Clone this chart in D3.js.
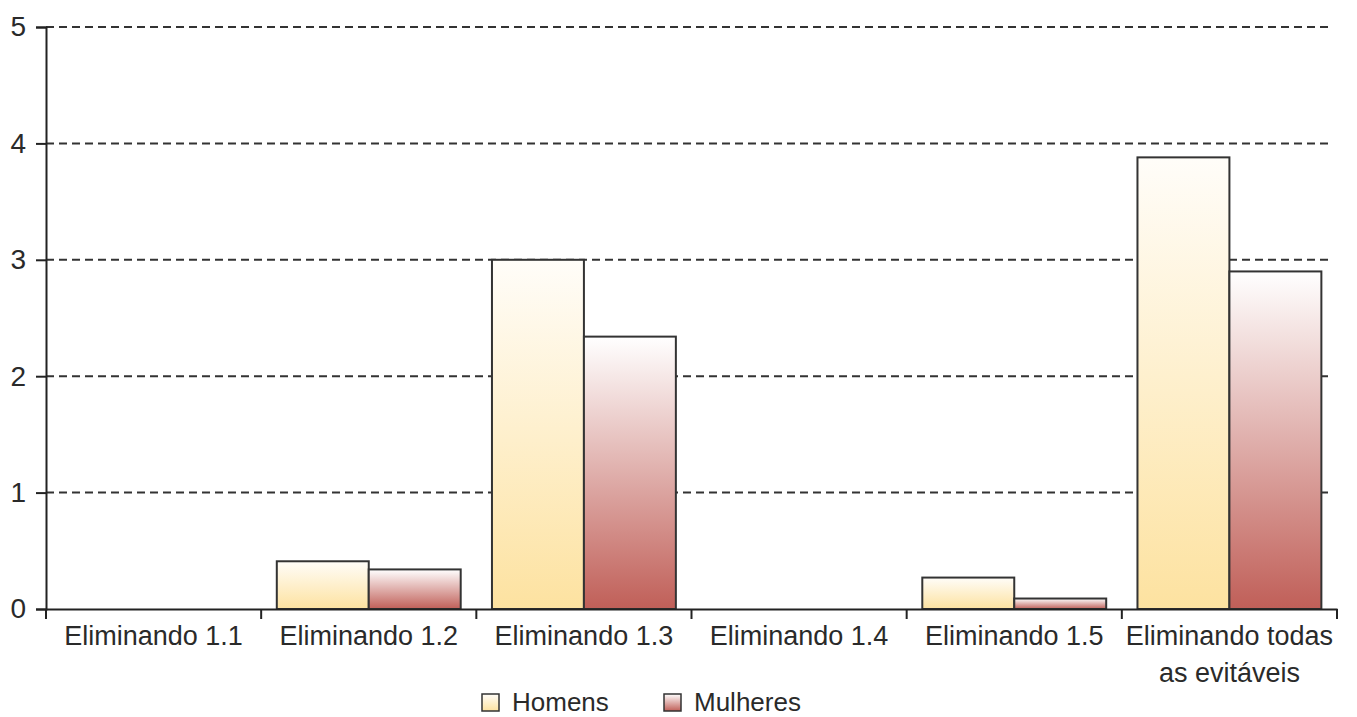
<!DOCTYPE html>
<html>
<head>
<meta charset="utf-8">
<script src="https://cdn.jsdelivr.net/npm/d3@7"></script>
<style>
  html, body { margin: 0; padding: 0; background: #fff; }
  svg { display: block; font-family: "Liberation Sans", Arial, sans-serif; }
</style>
</head>
<body>
<svg id="chart" width="1357" height="717"></svg>
<script>
// Categories (multi-line labels split on "\n")
const categories = [
  "Eliminando 1.1",
  "Eliminando 1.2",
  "Eliminando 1.3",
  "Eliminando 1.4",
  "Eliminando 1.5",
  "Eliminando todas\nas evitáveis"
];
const seriesNames = ["Homens", "Mulheres"];
const homens   = [0, 0.41, 3.0, 0, 0.27, 3.88];
const mulheres = [0, 0.34, 2.34, 0, 0.09, 2.9];
const yTicks = [0, 1, 2, 3, 4, 5];

const svg = d3.select("#chart");
const margin = { left: 46, top: 27 };
const plotRight = 1337;
const plotBottom = 609;

const x = d3.scaleBand().domain(categories).range([margin.left, plotRight]).padding(0);
const xs = d3.scaleBand().domain(seriesNames).range([0, x.bandwidth()]).paddingInner(0).paddingOuter(0.17);
const y = d3.scaleLinear().domain([0, 5]).range([plotBottom, margin.top]);

// Vertical gradients for the bar fills
const defs = svg.append("defs");
const gradSpecs = [
  { id: "g-homens", top: "#fffdf9", bottom: "#fde2a0" },
  { id: "g-mulheres", top: "#ffffff", bottom: "#c05f58" }
];
gradSpecs.forEach(g => {
  const lg = defs.append("linearGradient").attr("id", g.id)
    .attr("x1", 0).attr("y1", 0).attr("x2", 0).attr("y2", 1);
  lg.append("stop").attr("offset", "0%").attr("stop-color", g.top);
  lg.append("stop").attr("offset", "100%").attr("stop-color", g.bottom);
});
const fillFor = { "Homens": "url(#g-homens)", "Mulheres": "url(#g-mulheres)" };

// Dashed horizontal gridlines
svg.append("g").selectAll("line")
  .data(yTicks.filter(t => t > 0))
  .join("line")
  .attr("x1", margin.left).attr("x2", plotRight - 4)
  .attr("y1", d => y(d)).attr("y2", d => y(d))
  .attr("stroke", "#333").attr("stroke-width", 2)
  .attr("stroke-dasharray", "8,5");

// Bars
const rows = categories.map((c, i) => ({ cat: c, values: [
  { name: "Homens", value: homens[i] },
  { name: "Mulheres", value: mulheres[i] }
]}));

const groups = svg.append("g").selectAll("g")
  .data(rows).join("g")
  .attr("transform", d => `translate(${x(d.cat)},0)`);

groups.selectAll("rect")
  .data(d => d.values.filter(v => v.value > 0))
  .join("rect")
  .attr("x", d => xs(d.name))
  .attr("width", xs.bandwidth())
  .attr("y", d => y(d.value))
  .attr("height", d => y(0) - y(d.value))
  .attr("fill", d => fillFor[d.name])
  .attr("stroke", "#333")
  .attr("stroke-width", 2);

// Y axis
const yAxis = d3.axisLeft(y).tickValues(yTicks).tickSize(10).tickPadding(10).tickFormat(d3.format("d"));
const gy = svg.append("g").attr("transform", `translate(${margin.left},0)`).call(yAxis);
gy.select(".domain").attr("stroke", "#222").attr("stroke-width", 2);
gy.selectAll(".tick line").attr("stroke", "#222").attr("stroke-width", 2);
gy.selectAll(".tick text").attr("font-size", 28).attr("fill", "#2a2a2a")
  .attr("font-family", "Liberation Sans, Arial, sans-serif");

// X axis
const xAxis = d3.axisBottom(x).tickSize(0).tickFormat("");
const gx = svg.append("g").attr("transform", `translate(0,${plotBottom})`).call(xAxis);
gx.select(".domain").attr("stroke", "#222").attr("stroke-width", 2);

// Boundary ticks between categories
const boundaries = categories.map(c => x(c)).concat([x(categories[categories.length - 1]) + x.bandwidth()]);
svg.append("g").selectAll("line")
  .data(boundaries).join("line")
  .attr("x1", d => d).attr("x2", d => d)
  .attr("y1", plotBottom).attr("y2", plotBottom + 10)
  .attr("stroke", "#222").attr("stroke-width", 2);

// Category labels
const labels = svg.append("g").selectAll("text")
  .data(categories).join("text")
  .attr("x", d => x(d) + x.bandwidth() / 2)
  .attr("y", 645)
  .attr("text-anchor", "middle")
  .attr("font-size", 27)
  .attr("fill", "#2a2a2a");
labels.each(function(d) {
  const t = d3.select(this);
  d.split("\n").forEach((line, i) => {
    t.append("tspan").attr("x", x(d) + x.bandwidth() / 2).attr("dy", i === 0 ? 0 : 37).text(line);
  });
});

// Legend
const legendItems = [
  { name: "Homens", bx: 482 },
  { name: "Mulheres", bx: 664 }
];
const lg = svg.append("g");
legendItems.forEach(it => {
  lg.append("rect").attr("x", it.bx).attr("y", 694).attr("width", 17).attr("height", 17)
    .attr("fill", fillFor[it.name]).attr("stroke", "#333").attr("stroke-width", 1.5);
  lg.append("text").attr("x", it.bx + 30).attr("y", 711)
    .attr("font-size", 26).attr("fill", "#2a2a2a").text(it.name);
});
</script>
</body>
</html>
